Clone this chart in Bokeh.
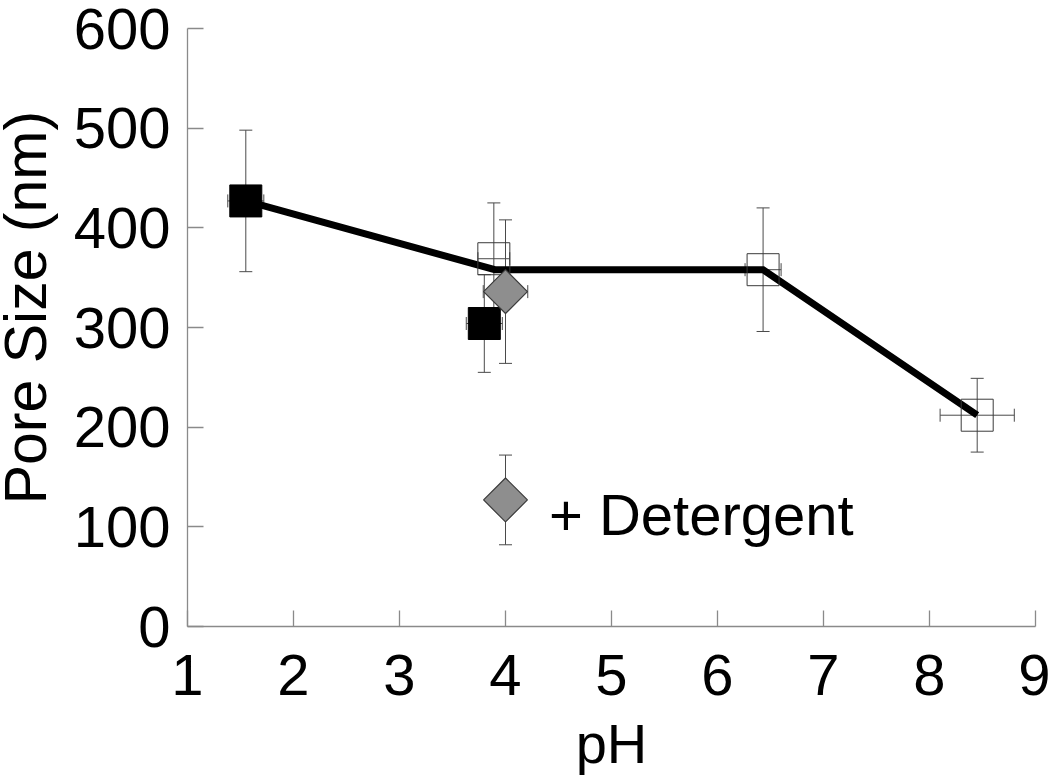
import math
from bokeh.plotting import figure
from bokeh.layouts import row
from bokeh.models import Range1d, ColumnDataSource, Whisker, TeeHead, Label, FixedTicker
from bokeh.embed import file_html
from bokeh.resources import INLINE

# ---- data ----
# fitted trend line
line_ph = [1.55, 3.90, 6.43, 8.45]
line_size = [427, 358, 358, 212]

# filled squares
filled_ph = [1.55, 3.80]
filled_size = [427, 304]
filled_yerr = [71, 49]
filled_xerr = [0.17, 0.17]

# open squares
open_ph = [3.89, 6.43, 8.45]
open_size = [369, 358, 212]
open_yerr = [56, 62, 37]
open_xerr = [0.15, 0.17, 0.35]

# + detergent (diamonds)
det_ph = [4.00, 4.00]
det_size = [336, 127]
det_yerr = [72, 45]
det_xerr = [0.21, 0.0]

x_ticks = [1, 2, 3, 4, 5, 6, 7, 8, 9]
y_ticks = [0, 100, 200, 300, 400, 500, 600]

FONT = "Liberation Sans"
AXIS_GRAY = "#8a8a8a"
ERR_GRAY = "#4a4a4a"
TITLE_W = 70

# ---- y-axis title strip ----
lab = figure(width=TITLE_W, height=782, output_backend="svg", toolbar_location=None,
             x_range=Range1d(0, TITLE_W), y_range=Range1d(0, 782),
             x_axis_type=None, y_axis_type=None,
             min_border_left=0, min_border_right=0, min_border_top=0, min_border_bottom=0)
lab.outline_line_color = None
lab.xgrid.visible = False
lab.ygrid.visible = False
lab.add_layout(Label(x=25, y=417, text="Pore Size (nm)", angle=math.pi / 2,
                     text_font=FONT, text_font_size="59px", text_color="black",
                     text_baseline="middle", text_align="center"))

# ---- main plot ----
p = figure(width=1050 - TITLE_W, height=782, output_backend="svg", toolbar_location=None,
           x_range=Range1d(1, 9), y_range=Range1d(0, 600),
           min_border_left=186 - TITLE_W, min_border_right=15, min_border_top=28,
           min_border_bottom=156)
p.outline_line_color = None
p.xgrid.visible = False
p.ygrid.visible = False
p.background_fill_color = "white"
p.border_fill_color = "white"

for ax in (p.xaxis[0], p.yaxis[0]):
    ax.axis_line_color = AXIS_GRAY
    ax.axis_line_width = 1.3
    ax.major_tick_line_color = AXIS_GRAY
    ax.major_tick_line_width = 1.3
    ax.major_tick_in = 16
    ax.major_tick_out = 0
    ax.minor_tick_line_color = None
    ax.major_label_text_font = FONT
    ax.major_label_text_font_size = "58px"
    ax.major_label_text_color = "black"
    ax.axis_label_text_font = FONT
    ax.axis_label_text_font_style = "normal"
    ax.axis_label_text_color = "black"

p.xaxis[0].ticker = FixedTicker(ticks=x_ticks)
p.yaxis[0].ticker = FixedTicker(ticks=y_ticks)
p.xaxis[0].major_label_standoff = 28
p.yaxis[0].major_label_standoff = 17
p.xaxis[0].axis_label = "pH"
p.xaxis[0].axis_label_text_font_size = "56px"
p.xaxis[0].axis_label_standoff = 14

# error bars
def add_err(xs, ys, yerr, xerr):
    src = ColumnDataSource(dict(
        x=xs, y=ys,
        ylo=[y - e for y, e in zip(ys, yerr)], yhi=[y + e for y, e in zip(ys, yerr)],
    ))
    wy = Whisker(source=src, base="x", lower="ylo", upper="yhi", dimension="height",
                 line_color=ERR_GRAY, line_width=1,
                 upper_head=TeeHead(size=13, line_color=ERR_GRAY, line_width=1),
                 lower_head=TeeHead(size=13, line_color=ERR_GRAY, line_width=1))
    p.add_layout(wy)
    xsrc = ColumnDataSource(dict(
        y=[y for y, e in zip(ys, xerr) if e > 0],
        xlo=[x - e for x, e in zip(xs, xerr) if e > 0],
        xhi=[x + e for x, e in zip(xs, xerr) if e > 0],
    ))
    wx = Whisker(source=xsrc, base="y", lower="xlo", upper="xhi", dimension="width",
                 line_color=ERR_GRAY, line_width=1,
                 upper_head=TeeHead(size=13, line_color=ERR_GRAY, line_width=1),
                 lower_head=TeeHead(size=13, line_color=ERR_GRAY, line_width=1))
    p.add_layout(wx)

add_err(filled_ph, filled_size, filled_yerr, filled_xerr)
add_err(open_ph, open_size, open_yerr, open_xerr)
add_err(det_ph, det_size, det_yerr, det_xerr)

# trend line
p.line(line_ph, line_size, line_color="black", line_width=7, line_join="miter")

# markers
p.scatter(open_ph, open_size, marker="square", size=32, fill_color=None,
          line_color="#3a3a3a", line_width=1)
p.scatter(filled_ph, filled_size, marker="square", size=32, fill_color="black",
          line_color="black", line_width=1)
p.scatter(det_ph, det_size, marker="square", size=31, angle=math.pi / 4,
          fill_color="#8e8e8e", line_color="#3a3a3a", line_width=1.2)

# text
p.add_layout(Label(x=4.41, y=112, text="+ Detergent", text_font=FONT,
                   text_font_size="58px", text_color="black",
                   text_baseline="alphabetic", text_align="left"))

layout = row(lab, p, spacing=0)
open("out.html", "w").write(file_html(layout, INLINE))
